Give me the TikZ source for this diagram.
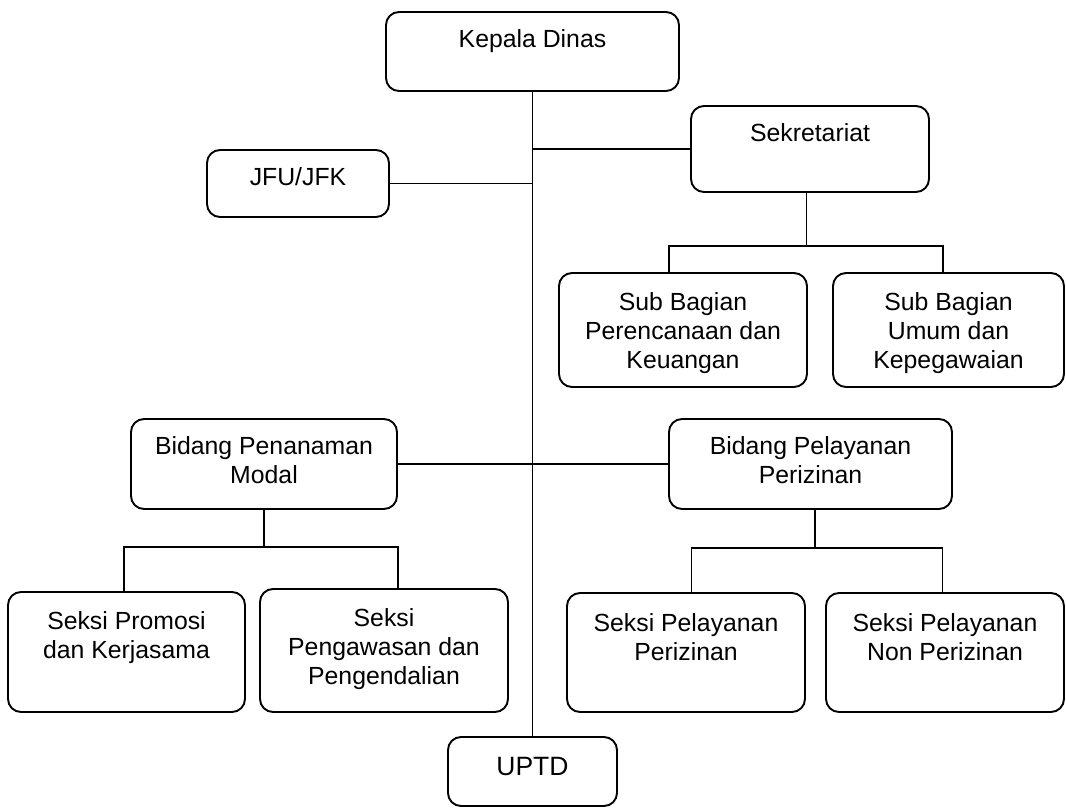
\documentclass[tikz,border=0pt]{standalone}
\usepackage{fontspec}
\setmainfont{Liberation Sans}
\begin{document}
\begin{tikzpicture}[x=1pt,y=-1pt,
  orgbox/.style={draw=black, line width=1.9pt, rounded corners=13pt, inner sep=0pt, outer sep=0pt},
  lbl/.style={font=\fontsize{24.8}{29}\selectfont, align=center, inner sep=0pt},
  conn/.style={line width=1.9pt, draw=black}]
\useasboundingbox[fill=white] (0,0) rectangle (1066,810);
% boxes
\node[orgbox, minimum width=293pt, minimum height=79pt]  (kd)   at (532.5,51.5) {};
\node[orgbox, minimum width=238pt, minimum height=86pt]  (sek)  at (810,149) {};
\node[orgbox, minimum width=182pt, minimum height=67pt]  (jfu)  at (298,183.5) {};
\node[orgbox, minimum width=248pt, minimum height=114pt] (sbp)  at (683,330) {};
\node[orgbox, minimum width=231pt, minimum height=114pt] (sbu)  at (948.5,330) {};
\node[orgbox, minimum width=266pt, minimum height=90pt]  (bpm)  at (264,464) {};
\node[orgbox, minimum width=283pt, minimum height=90pt]  (bpp)  at (810.5,464) {};
\node[orgbox, minimum width=237pt, minimum height=120pt] (spk)  at (126.5,652) {};
\node[orgbox, minimum width=248pt, minimum height=123pt] (spd)  at (384,650.5) {};
\node[orgbox, minimum width=238pt, minimum height=119pt] (spp)  at (686,652.5) {};
\node[orgbox, minimum width=238pt, minimum height=119pt] (spn)  at (945,652.5) {};
\node[orgbox, minimum width=169pt, minimum height=69pt]  (uptd) at (532.5,771.5) {};
% texts
\node[lbl, anchor=base] (kdt) at (532.5,47.7) {Kepala Dinas};
\node[lbl, anchor=base] (sekt) at (810,142) {Sekretariat};
\node[lbl, anchor=base] (jfut) at (298,186) {JFU/JFK};
\node[lbl, anchor=base, font=\fontsize{26.5}{31}\selectfont] (uptdt) at (532.5,775) {UPTD};
\node[lbl] (sbpt) at (683,333) {Sub Bagian\\Perencanaan dan\\Keuangan};
\node[lbl] (sbut) at (948.5,333) {Sub Bagian\\Umum dan\\Kepegawaian};
\node[lbl] (bpmt) at (264,460) {Bidang Penanaman\\Modal};
\node[lbl] (bppt) at (810.5,460) {Bidang Pelayanan\\Perizinan};
\node[lbl] (spkt) at (126.5,637.5) {Seksi Promosi\\dan Kerjasama};
\node[lbl] (spdt) at (384,649) {Seksi\\Pengawasan dan\\Pengendalian};
\node[lbl] (sppt) at (686,637) {Seksi Pelayanan\\Perizinan};
\node[lbl] (spnt) at (945,637) {Seksi Pelayanan\\Non Perizinan};
% connectors
\draw[conn] (kd.south) -- (uptd.north);
\draw[conn] (sek.west) -- (sek.west -| kd.south);
\draw[conn] (jfu.east) -- (jfu.east -| kd.south);
\draw[conn] (bpm.east) -- (bpp.west);
\draw[conn] ([xshift=-3.5pt]sek.south) -- ++(0,54) coordinate (sekj);
\draw[conn] ([xshift=-14pt]sbp.north) |- (sekj) -| ([xshift=-5.5pt]sbu.north);
\draw[conn] (bpm.south) -- ++(0,38) coordinate (bpmj);
\draw[conn] ([xshift=-2.5pt]spk.north) |- (bpmj) -| ([xshift=14pt]spd.north);
\draw[conn] ([xshift=4.5pt]bpp.south) -- ++(0,39) coordinate (bppj);
\draw[conn] ([xshift=5.5pt]spp.north) |- (bppj) -| ([xshift=-2.5pt]spn.north);
\end{tikzpicture}
\end{document}
